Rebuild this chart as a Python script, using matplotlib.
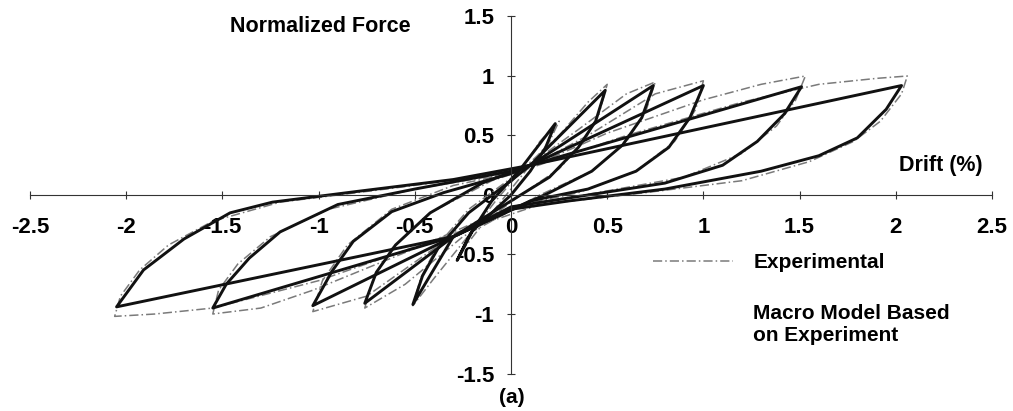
import matplotlib
matplotlib.use("Agg")
from matplotlib import pyplot as plt
from matplotlib.lines import Line2D

plt.rcParams['font.family'] = ['Liberation Sans', 'DejaVu Sans']
plt.rcParams['font.weight'] = 'bold'

# Macro model loops (black), one per drift amplitude 0.25, 0.5, 0.75, 1, 1.5, 2 (%)
model_drift = [
    [0.05, 0.23, 0.18, 0.10, 0.00, -0.20, -0.28, -0.22, -0.10, 0.05],
    [0.10, 0.49, 0.44, 0.35, 0.20, 0.00, -0.30, -0.51, -0.46, -0.38, -0.22, 0.00, 0.10],
    [0.10, 0.74, 0.68, 0.58, 0.42, 0.20, -0.30, -0.76, -0.70, -0.60, -0.42, -0.15, 0.10],
    [0.10, 1.00, 0.93, 0.82, 0.65, 0.40, 0.10, -0.30, -1.03, -0.93, -0.82, -0.62, -0.35, 0.00, 0.10],
    [0.10, 1.51, 1.42, 1.28, 1.10, 0.80, 0.40, 0.00, -0.30, -1.55, -1.48, -1.36, -1.20, -0.90, -0.50, 0.00, 0.10],
    [0.10, 2.03, 1.95, 1.80, 1.60, 1.30, 0.80, 0.30, 0.00, -0.30, -2.05, -1.91, -1.70, -1.46, -1.24, -0.80, -0.30, 0.10],
]
model_force = [
    [0.22, 0.60, 0.40, 0.20, 0.00, -0.30, -0.55, -0.35, -0.05, 0.22],
    [0.25, 0.88, 0.62, 0.40, 0.15, -0.05, -0.35, -0.92, -0.68, -0.45, -0.15, 0.12, 0.25],
    [0.25, 0.92, 0.65, 0.42, 0.20, 0.02, -0.35, -0.91, -0.65, -0.42, -0.15, 0.10, 0.25],
    [0.25, 0.92, 0.65, 0.40, 0.20, 0.05, -0.05, -0.35, -0.93, -0.64, -0.39, -0.14, 0.02, 0.18, 0.25],
    [0.25, 0.91, 0.68, 0.45, 0.25, 0.10, 0.00, -0.10, -0.35, -0.95, -0.75, -0.53, -0.31, -0.08, 0.05, 0.20, 0.25],
    [0.25, 0.92, 0.72, 0.48, 0.33, 0.20, 0.05, -0.05, -0.12, -0.35, -0.94, -0.63, -0.37, -0.15, -0.06, 0.03, 0.13, 0.25],
]

# Experimental loops (grey)
exp_drift = [
    [0.05, 0.15, 0.25, 0.20, 0.10, 0.00, -0.15, -0.27, -0.20, -0.08, 0.05],
    [0.05, 0.25, 0.40, 0.50, 0.46, 0.38, 0.25, 0.05, -0.20, -0.40, -0.51, -0.47, -0.38, -0.22, 0.05],
    [0.05, 0.35, 0.60, 0.75, 0.70, 0.60, 0.42, 0.15, -0.25, -0.55, -0.76, -0.72, -0.62, -0.42, -0.10, 0.05],
    [0.05, 0.40, 0.75, 1.00, 0.96, 0.85, 0.65, 0.35, 0.00, -0.40, -0.75, -1.03, -0.98, -0.85, -0.62, -0.30, 0.05],
    [0.05, 0.50, 1.00, 1.30, 1.53, 1.48, 1.38, 1.20, 0.90, 0.45, 0.00, -0.50, -1.03, -1.30, -1.55, -1.52, -1.42,
     -1.25, -0.95, -0.50, 0.05],
    [0.05, 0.60, 1.20, 1.60, 1.90, 2.06, 2.03, 1.92, 1.78, 1.55, 1.20, 0.70, 0.15, -0.40, -1.00, -1.55, -1.85,
     -2.06, -2.03, -1.93, -1.78, -1.55, -1.20, -0.60, 0.05],
]
exp_force = [
    [0.20, 0.45, 0.62, 0.45, 0.25, 0.05, -0.25, -0.50, -0.30, -0.05, 0.20],
    [0.20, 0.50, 0.78, 0.93, 0.70, 0.45, 0.22, 0.00, -0.30, -0.70, -0.93, -0.70, -0.42, -0.12, 0.20],
    [0.20, 0.55, 0.85, 0.95, 0.70, 0.45, 0.20, 0.00, -0.35, -0.75, -0.95, -0.72, -0.45, -0.15, 0.12, 0.20],
    [0.20, 0.50, 0.85, 0.96, 0.72, 0.45, 0.20, 0.02, -0.10, -0.45, -0.85, -0.98, -0.72, -0.42, -0.12, 0.08, 0.20],
    [0.20, 0.52, 0.80, 0.93, 1.00, 0.80, 0.58, 0.35, 0.15, 0.02, -0.10, -0.45, -0.80, -0.95, -1.00, -0.80, -0.58,
     -0.35, -0.12, 0.05, 0.20],
    [0.20, 0.50, 0.78, 0.93, 0.98, 1.00, 0.85, 0.62, 0.45, 0.28, 0.12, 0.02, -0.08, -0.38, -0.72, -0.95, -1.00,
     -1.02, -0.85, -0.63, -0.42, -0.22, -0.06, 0.06, 0.20],
]

x_ticks = [-2.5, -2, -1.5, -1, -0.5, 0, 0.5, 1, 1.5, 2, 2.5]
x_labels = ['-2.5', '-2', '-1.5', '-1', '-0.5', '0', '0.5', '1', '1.5', '2', '2.5']
y_ticks = [-1.5, -1, -0.5, 0, 0.5, 1, 1.5]
y_labels = ['-1.5', '-1', '-0.5', '0', '0.5', '1', '1.5']

W, H = 1013, 411
fig = plt.figure(figsize=(W/100, H/100), dpi=100)
ax = fig.add_axes([30/W, 1-373.5/H, 962/W, 357/H])

exp_style = dict(color='#7a7a7a', lw=1.1, ls=(0, (6, 2, 1, 2)))
for xs, ys in zip(exp_drift, exp_force):
    ax.plot(xs, ys, **exp_style)
for xs, ys in zip(model_drift, model_force):
    ax.plot(xs, ys, color='#111111', lw=2.1, solid_joinstyle='round')

ax.set_xlim(-2.5, 2.5)
ax.set_ylim(-1.5, 1.5)
for s in ['top', 'right']:
    ax.spines[s].set_visible(False)
for s in ['left', 'bottom']:
    ax.spines[s].set_position(('data', 0))
    ax.spines[s].set_linewidth(0.8)
    ax.spines[s].set_color('#333333')
ax.set_xticks(x_ticks)
ax.set_xticklabels(x_labels)
ax.set_yticks(y_ticks)
ax.set_yticklabels(y_labels)
ax.tick_params(axis='both', direction='inout', length=6, width=0.8, color='#333333', labelsize=16)
ax.tick_params(axis='x', pad=13)
ax.tick_params(axis='y', pad=9)
ax.patch.set_visible(False)

fig.text(320/W, 1-27/H, 'Normalized Force', ha='center', va='center', fontsize=15.5, fontweight='bold')
fig.text(941/W, 1-166/H, 'Drift (%)', ha='center', va='center', fontsize=15.5, fontweight='bold')
fig.text(512/W, 1-397/H, '(a)', ha='center', va='center', fontsize=15, fontweight='bold')

handles = [Line2D([], [], **exp_style), Line2D([], [], color='none')]
fig.legend(handles, ['Experimental', 'Macro Model Based\non Experiment'],
           loc='upper left', bbox_to_anchor=(643/W, 1-243/H), frameon=False,
           handlelength=3.8, handletextpad=1.0, labelspacing=1.5, borderpad=0,
           prop={'size': 15, 'weight': 'bold'})

fig.savefig('out.png', dpi=100)
